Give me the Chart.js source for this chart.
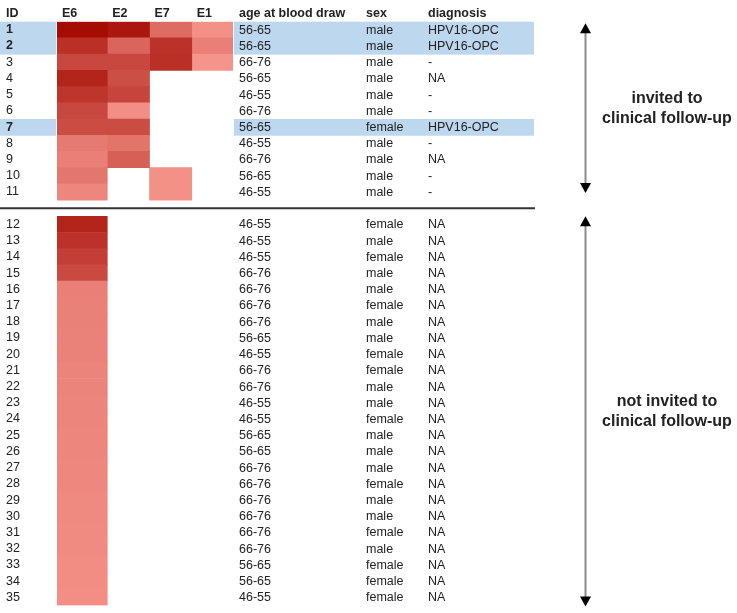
<!DOCTYPE html>
<html>
<head>
<meta charset="utf-8">
<script src="https://cdn.jsdelivr.net/npm/chart.js@4/dist/chart.umd.min.js"></script>
<style>
  html, body { margin: 0; padding: 0; background: #ffffff; }
  #wrap { width: 737px; height: 613px; position: relative; }
</style>
</head>
<body>
<div id="wrap"><canvas id="c"></canvas></div>
<script>
// ---------- data ----------
const ids = ['1','2','3','4','5','6','7','8','9','10','11','12','13','14','15','16','17','18','19','20','21','22','23','24','25','26','27','28','29','30','31','32','33','34','35'];
const antigens = ['E6', 'E2', 'E7', 'E1'];
// relative seroreactivity (0-100), null = not reactive
const e6 = [100, 76, 60, 84, 72, 60, 57, 26, 22, 28, 17, 84, 74, 66, 58, 22, 21, 21, 20, 20, 19, 19, 18, 18, 17, 17, 16, 16, 15, 15, 14, 14, 13, 13, 12];
const e2 = [93, 40, 60, 55, 62, 12, 57, 30, 44, null, null, null, null, null, null, null, null, null, null, null, null, null, null, null, null, null, null, null, null, null, null, null, null, null, null];
const e7 = [35, 74, 76, null, null, null, null, null, null, 10, 10, null, null, null, null, null, null, null, null, null, null, null, null, null, null, null, null, null, null, null, null, null, null, null, null];
const e1 = [10, 22, 8, null, null, null, null, null, null, null, null, null, null, null, null, null, null, null, null, null, null, null, null, null, null, null, null, null, null, null, null, null, null, null, null];
const ages = ['56-65','56-65','66-76','56-65','46-55','66-76','56-65','46-55','66-76','56-65','46-55','46-55','46-55','46-55','66-76','66-76','66-76','66-76','56-65','46-55','66-76','66-76','46-55','46-55','56-65','56-65','66-76','66-76','66-76','66-76','66-76','66-76','56-65','56-65','46-55'];
const sexes = ['male','male','male','male','male','male','female','male','male','male','male','female','male','female','male','male','female','male','male','female','female','male','male','female','male','male','male','female','male','male','female','male','female','female','female'];
const diagnoses = ['HPV16-OPC','HPV16-OPC','-','NA','-','-','HPV16-OPC','-','NA','-','-','NA','NA','NA','NA','NA','NA','NA','NA','NA','NA','NA','NA','NA','NA','NA','NA','NA','NA','NA','NA','NA','NA','NA','NA'];
const invitedIds = ['1','2','3','4','5','6','7','8','9','10','11'];
const highlightIds = ['1','2','7'];
const groupLabels = [['invited to', 'clinical follow-up'], ['not invited to', 'clinical follow-up']];
const headers = ['age at blood draw', 'sex', 'diagnosis'];

// ---------- layout / style ----------
const FONT = '"Liberation Sans", Arial, sans-serif';
const TEXT = '#222222';
const colWidths = [50, 42, 42, 41];          // column widths in x-scale units
const colEdges = [0];
colWidths.forEach(w => colEdges.push(colEdges[colEdges.length - 1] + w));
const SPACER = ' ';
const labels = [...invitedIds, SPACER, ...ids.filter(i => !invitedIds.includes(i))];
const series = [e6, e2, e7, e1];

function heatColor(v) {
  const t = Math.max(0, Math.min(1, v / 100));
  const lo = [252, 160, 150], hi = [165, 12, 4];
  const c = lo.map((l, i) => Math.round(l + (hi[i] - l) * t));
  return `rgb(${c[0]},${c[1]},${c[2]})`;
}

const datasets = antigens.map((name, k) => ({
  label: name,
  data: labels.map(lab => {
    const r = ids.indexOf(lab);
    if (r < 0 || series[k][r] == null) return null;
    return [colEdges[k], colEdges[k + 1]];
  }),
  values: labels.map(lab => { const r = ids.indexOf(lab); return r < 0 ? null : series[k][r]; }),
  backgroundColor: ctx => {
    const v = ctx.dataset.values[ctx.dataIndex];
    return v == null ? 'rgba(0,0,0,0)' : heatColor(v);
  },
  borderWidth: 0,
  borderSkipped: false,
  grouped: false,
  barPercentage: 1,
  categoryPercentage: 1
}));

const tablePlugin = {
  id: 'table',
  beforeDraw(chart) {
    const { ctx, chartArea: ca, scales: { y } } = chart;
    const half = (y.getPixelForValue(1) - y.getPixelForValue(0)) / 2;
    ctx.save();
    ctx.fillStyle = '#bdd7ee';
    highlightIds.forEach(id => {
      const yc = y.getPixelForValue(labels.indexOf(id));
      ctx.fillRect(0, yc - half, ca.left - 1, half * 2 + 0.5);
      ctx.fillRect(ca.right + 1, yc - half, 300, half * 2 + 0.5);
    });
    ctx.restore();
  },
  afterDraw(chart) {
    const { ctx, chartArea: ca, scales: { x, y } } = chart;
    const half = (y.getPixelForValue(1) - y.getPixelForValue(0)) / 2;
    const colX = [ca.right + 6, ca.right + 133, ca.right + 195];
    ctx.save();
    // headers
    ctx.fillStyle = TEXT;
    ctx.textBaseline = 'middle';
    ctx.textAlign = 'left';
    ctx.font = `bold 12.5px ${FONT}`;
    const hy = ca.top - 8.5;
    ctx.fillText('ID', 6, hy);
    antigens.forEach((a, k) => ctx.fillText(a, x.getPixelForValue(colEdges[k]) + 5, hy));
    headers.forEach((h, k) => ctx.fillText(h, colX[k], hy));
    // row texts
    ctx.font = `12.5px ${FONT}`;
    ids.forEach((id, r) => {
      const yc = y.getPixelForValue(labels.indexOf(id)) + 0.5;
      ctx.fillText(ages[r], colX[0], yc);
      ctx.fillText(sexes[r], colX[1], yc);
      ctx.fillText(diagnoses[r], colX[2], yc);
    });
    // divider
    const dy = y.getPixelForValue(labels.indexOf(SPACER));
    ctx.strokeStyle = '#333333';
    ctx.lineWidth = 2;
    ctx.beginPath();
    ctx.moveTo(0, dy);
    ctx.lineTo(ca.right + 302, dy);
    ctx.stroke();
    // arrows
    const ax = ca.right + 352.5;
    const first = invitedIds, rest = ids.filter(i => !invitedIds.includes(i));
    const groups = [
      [y.getPixelForValue(labels.indexOf(first[0])) - half + 1.5, y.getPixelForValue(labels.indexOf(first[first.length - 1])) + half - 7],
      [y.getPixelForValue(labels.indexOf(rest[0])) - half, y.getPixelForValue(labels.indexOf(rest[rest.length - 1])) + half + 1]
    ];
    groups.forEach(([t, b], g) => {
      ctx.strokeStyle = '#8a8a8a';
      ctx.lineWidth = 2;
      ctx.beginPath();
      ctx.moveTo(ax, t + 8);
      ctx.lineTo(ax, b - 8);
      ctx.stroke();
      ctx.fillStyle = '#000000';
      ctx.beginPath();
      ctx.moveTo(ax, t); ctx.lineTo(ax - 5.5, t + 10); ctx.lineTo(ax + 5.5, t + 10); ctx.closePath(); ctx.fill();
      ctx.beginPath();
      ctx.moveTo(ax, b); ctx.lineTo(ax - 5.5, b - 10); ctx.lineTo(ax + 5.5, b - 10); ctx.closePath(); ctx.fill();
      ctx.fillStyle = TEXT;
      ctx.font = `bold 16px ${FONT}`;
      ctx.textAlign = 'center';
      const mid = (t + b) / 2;
      ctx.fillText(groupLabels[g][0], ca.right + 434, mid - 10);
      ctx.fillText(groupLabels[g][1], ca.right + 434, mid + 10);
    });
    ctx.restore();
  }
};

new Chart(document.getElementById('c'), {
  type: 'bar',
  data: { labels, datasets },
  options: {
    indexAxis: 'y',
    responsive: true,
    maintainAspectRatio: false,
    animation: false,
    layout: { padding: { left: 6, right: 504, top: 21.7, bottom: 7 } },
    plugins: { legend: { display: false }, tooltip: { enabled: false } },
    scales: {
      x: { type: 'linear', min: 0, max: colEdges[colEdges.length - 1], display: false },
      y: {
        type: 'category',
        grid: { display: false },
        border: { display: false },
        afterFit: s => { s.width = 51; },
        ticks: {
          autoSkip: false,
          padding: 0,
          crossAlign: 'far',
          color: TEXT,
          font: ctx => ({ family: FONT, size: 12.5, weight: highlightIds.includes(labels[ctx.index]) ? 'bold' : 'normal' })
        }
      }
    }
  },
  plugins: [tablePlugin]
});
</script>
</body>
</html>
